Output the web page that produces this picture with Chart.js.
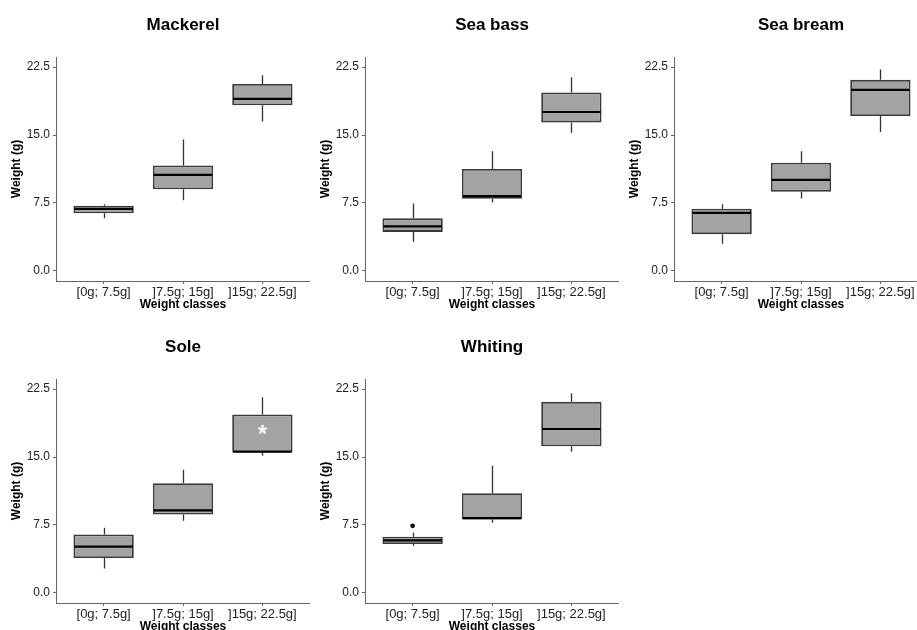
<!DOCTYPE html>
<html>
<head>
<meta charset="utf-8">
<script src="https://cdn.jsdelivr.net/npm/chart.js@4.4.1/dist/chart.umd.min.js"></script>
<style>
  html, body { margin: 0; padding: 0; background: #fff; }
  body { width: 917px; height: 630px; overflow: hidden; position: relative; }
  canvas { position: absolute; }
</style>
</head>
<body>
<script>
// weight classes and species
const classes = ['[0g; 7.5g]', ']7.5g; 15g]', ']15g; 22.5g]'];
const species = ['Mackerel', 'Sea bass', 'Sea bream', 'Sole', 'Whiting'];
const yTicks = [0, 7.5, 15, 22.5];

// box plot statistics, one row per species, one value per weight class
const whiskerLow    = [[5.8, 7.8, 16.5], [3.2, 7.55, 15.25], [3.0, 8.0, 15.35], [2.7, 7.95, 15.15], [5.2, 7.75, 15.6]];
const lowerQuartile = [[6.35, 9.0, 18.3], [4.3, 7.95, 16.4], [4.05, 8.75, 17.1], [3.85, 8.65, 15.5], [5.4, 8.1, 16.2]];
const median        = [[6.85, 10.6, 19.0], [4.9, 8.25, 17.55], [6.4, 10.05, 20.0], [5.1, 9.1, 15.6], [5.8, 8.25, 18.1]];
const upperQuartile = [[7.2, 11.65, 20.65], [5.8, 11.25, 19.7], [6.85, 11.95, 21.1], [6.45, 12.1, 19.7], [6.2, 11.0, 21.1]];
const whiskerHigh   = [[7.35, 14.5, 21.6], [7.45, 13.2, 21.4], [7.35, 13.2, 22.25], [7.2, 13.6, 21.6], [6.65, 14.05, 22.05]];

// outliers per species: [class number, weight]
const outliers = [[], [], [], [], [[1, 7.4]]];
// significance marks per species: [class number, weight]
const stars = [[], [], [], [[3, 17.7]], []];

const FONT = "'Liberation Sans', Arial, sans-serif";
const panelPos = [[0, 0], [309, 0], [618, 0], [0, 322], [309, 322]];

const boxParts = {
    id: 'boxParts',
    beforeDatasetsDraw(chart, args, opts) {
        const ctx = chart.ctx;
        const x = chart.scales.x, y = chart.scales.y;
        const i = opts.index;
        ctx.save();
        ctx.strokeStyle = '#333';
        ctx.lineWidth = 1.3;
        ctx.beginPath();
        classes.forEach(function(c, k) {
            const px = Math.round(x.getPixelForValue(k + 1)) + 0.5;
            ctx.moveTo(px, y.getPixelForValue(upperQuartile[i][k]));
            ctx.lineTo(px, y.getPixelForValue(whiskerHigh[i][k]));
            ctx.moveTo(px, y.getPixelForValue(lowerQuartile[i][k]));
            ctx.lineTo(px, y.getPixelForValue(whiskerLow[i][k]));
        });
        ctx.stroke();
        ctx.restore();
    },
    afterDatasetsDraw(chart, args, opts) {
        const ctx = chart.ctx;
        const x = chart.scales.x, y = chart.scales.y;
        const i = opts.index;
        const bars = chart.getDatasetMeta(0).data;
        ctx.save();
        // median lines
        ctx.strokeStyle = '#000';
        ctx.lineWidth = 2.2;
        ctx.beginPath();
        bars.forEach(function(bar, k) {
            const py = y.getPixelForValue(median[i][k]);
            ctx.moveTo(bar.x - bar.width / 2 + 1, py);
            ctx.lineTo(bar.x + bar.width / 2 - 1, py);
        });
        ctx.stroke();
        // stars
        ctx.fillStyle = '#fff';
        ctx.font = 'bold 23px ' + FONT;
        ctx.textAlign = 'center';
        ctx.textBaseline = 'middle';
        stars[i].forEach(function(s) {
            ctx.fillText('*', x.getPixelForValue(s[0]), y.getPixelForValue(s[1]) + 3);
        });
        ctx.restore();
    },
    afterDraw(chart, args, opts) {
        const ctx = chart.ctx;
        const a = chart.chartArea;
        ctx.save();
        ctx.fillStyle = '#000';
        ctx.font = 'bold 17px ' + FONT;
        ctx.textAlign = 'center';
        ctx.textBaseline = 'middle';
        ctx.fillText(species[opts.index], (a.left + a.right) / 2, 25);
        ctx.restore();
    }
};

species.forEach(function(name, i) {
    const canvas = document.createElement('canvas');
    canvas.width = 310;
    canvas.height = 320;
    canvas.style.left = panelPos[i][0] + 'px';
    canvas.style.top = panelPos[i][1] + 'px';
    document.body.appendChild(canvas);

    new Chart(canvas.getContext('2d'), {
        type: 'bar',
        data: {
            datasets: [{
                type: 'bar',
                data: classes.map(function(c, k) {
                    return { x: k + 1, y: [lowerQuartile[i][k], upperQuartile[i][k]] };
                }),
                backgroundColor: '#a3a3a3',
                borderColor: '#3a3a3a',
                borderWidth: 1.8,
                borderSkipped: false,
                categoryPercentage: 1,
                barPercentage: 0.76
            }, {
                type: 'scatter',
                data: outliers[i].map(function(o) { return { x: o[0], y: o[1] }; }),
                pointRadius: 2.3,
                pointBackgroundColor: '#000',
                pointBorderWidth: 0
            }]
        },
        options: {
            responsive: false,
            animation: false,
            layout: { autoPadding: false, padding: { top: 57, left: 0, right: 0, bottom: 0 } },
            plugins: {
                legend: { display: false },
                tooltip: { enabled: false },
                boxParts: { index: i }
            },
            scales: {
                x: {
                    type: 'linear',
                    min: 0.4,
                    max: 3.6,
                    offset: false,
                    afterBuildTicks: function(scale) {
                        scale.ticks = classes.map(function(c, k) { return { value: k + 1 }; });
                    },
                    afterFit: function(scale) { scale.height = 39; },
                    ticks: {
                        callback: function(v) { return classes[v - 1]; },
                        color: '#222',
                        font: { family: FONT, size: 13 },
                        padding: 1,
                        maxRotation: 0,
                        autoSkip: false
                    },
                    grid: { drawOnChartArea: false, offset: false, tickLength: 3, color: '#666' },
                    border: { color: '#666', width: 1 },
                    title: {
                        display: true,
                        text: 'Weight classes',
                        color: '#000',
                        font: { family: FONT, size: 12, weight: 'bold' },
                        padding: { top: 0, bottom: 8 }
                    }
                },
                y: {
                    min: -1.125,
                    max: 23.625,
                    afterBuildTicks: function(scale) {
                        scale.ticks = yTicks.map(function(v) { return { value: v }; });
                    },
                    afterFit: function(scale) { scale.width = 56; },
                    ticks: {
                        callback: function(v) { return v.toFixed(1); },
                        color: '#222',
                        font: { family: FONT, size: 12 },
                        padding: 3
                    },
                    grid: { drawOnChartArea: false, tickLength: 3, color: '#666' },
                    border: { color: '#666', width: 1 },
                    title: {
                        display: true,
                        text: 'Weight (g)',
                        color: '#000',
                        font: { family: FONT, size: 12, weight: 'bold' },
                        padding: { top: 9, bottom: 0 }
                    }
                }
            }
        },
        plugins: [boxParts]
    });
});
</script>
</body>
</html>
